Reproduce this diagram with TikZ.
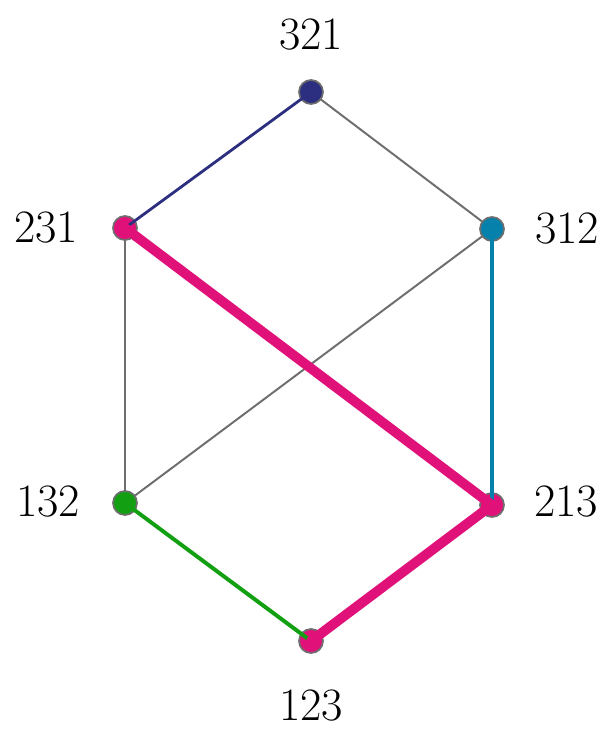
\documentclass[tikz,border=0pt]{standalone}
\usepackage{tikz}
\definecolor{cnavy}{HTML}{2C2F7F}
\definecolor{cmag}{HTML}{E0127A}
\definecolor{cteal}{HTML}{0681AC}
\definecolor{cgreen}{HTML}{12A012}
\definecolor{cgray}{HTML}{6E6E6E}
\begin{document}
\begin{tikzpicture}[x=0.025cm,y=-0.025cm,
  vert/.style={circle,draw=cgray,line width=1.2pt,minimum size=0.6cm,inner sep=0pt},
  lab/.style={font=\fontsize{33}{36}\selectfont,inner sep=0pt},
  gedge/.style={cgray,line width=1.4pt},
  cedge/.style={line width=#1,line cap=round}]
\useasboundingbox (0,0) rectangle (609,730);
\coordinate (p321) at (311,92);
\coordinate (p231) at (125,228);
\coordinate (p312) at (492,229);
\coordinate (p132) at (125,503);
\coordinate (p213) at (492,505);
\coordinate (p123) at (311,641);
% gray edges
\draw[gedge] (p321) -- (p312);
\draw[gedge] (p231) -- (p132);
\draw[gedge] (p312) -- (p132);
% vertices
\node[vert,fill=cnavy] (n321) at (p321) {};
\node[vert,fill=cmag] (n231) at (p231) {};
\node[vert,fill=cteal] (n312) at (p312) {};
\node[vert,fill=cgreen] (n132) at (p132) {};
\node[vert,fill=cmag] (n213) at (p213) {};
\node[vert,fill=cmag] (n123) at (p123) {};
% coloured edges
\draw[cedge=2pt,cnavy] (n231.center) -- (n321.center);
\draw[cedge=2.8pt,cteal] (n312.center) -- (n213.center);
\draw[cedge=2.8pt,cgreen] (n132.center) -- (n123.center);
\draw[cedge=7pt,cmag] (n231.center) -- (n213.center) -- (n123.center);
% labels
\node[lab] (l321) at (311,35) {321};
\node[lab] (l231) at (46,228) {231};
\node[lab] (l312) at (567,229) {312};
\node[lab] (l132) at (48,502) {132};
\node[lab] (l213) at (566,502) {213};
\node[lab] (l123) at (311,706) {123};
\end{tikzpicture}
\end{document}
